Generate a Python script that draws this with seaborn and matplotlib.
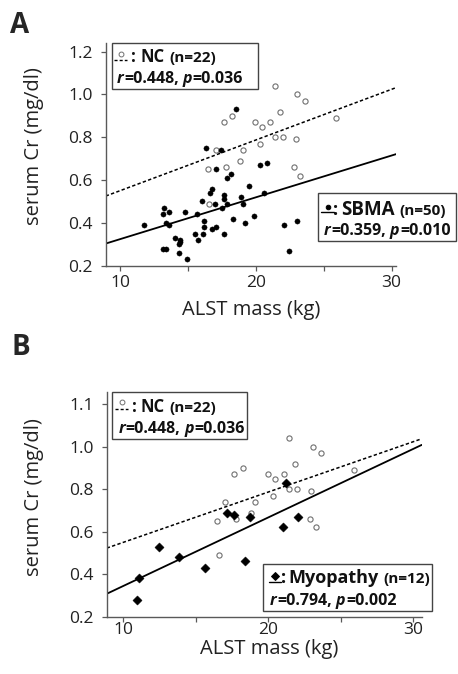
import pandas as pd
import seaborn as sns
import matplotlib.pyplot as plt
from matplotlib.patches import Rectangle
from matplotlib.lines import Line2D

# NC controls (same group shown in both panels)
nc_mass = [21.44, 23.06, 23.60, 21.81, 18.22, 17.65, 19.96, 20.43, 21.05, 25.87, 20.31,
           21.41, 21.98, 22.94, 17.04, 19.08, 17.80, 18.81, 16.47, 22.84, 23.28, 16.59]
nc_cr = [1.04, 1.00, 0.97, 0.92, 0.90, 0.87, 0.87, 0.85, 0.87, 0.89, 0.77,
         0.80, 0.80, 0.79, 0.74, 0.74, 0.66, 0.69, 0.65, 0.66, 0.62, 0.49]

# SBMA patients
sbma_mass = [18.56, 16.35, 17.45, 17.08, 20.80, 20.28, 18.14, 17.87, 16.81, 16.64,
             19.50, 18.88, 20.58, 16.05, 17.63, 17.65, 17.85, 16.96, 19.03, 17.50,
             13.22, 13.59, 13.17, 14.80, 15.66, 11.80, 13.40, 13.64, 16.15, 18.31,
             19.18, 19.86, 22.10, 23.04, 16.15, 16.81, 17.06, 15.51, 16.10, 17.68,
             14.08, 14.43, 14.45, 14.38, 15.76, 13.15, 13.37, 14.33, 14.97, 22.47]
sbma_cr = [0.93, 0.75, 0.74, 0.65, 0.68, 0.67, 0.63, 0.61, 0.56, 0.54,
           0.57, 0.52, 0.54, 0.50, 0.53, 0.51, 0.49, 0.49, 0.49, 0.47,
           0.47, 0.45, 0.44, 0.45, 0.44, 0.39, 0.40, 0.39, 0.41, 0.42,
           0.40, 0.43, 0.39, 0.41, 0.38, 0.37, 0.38, 0.35, 0.35, 0.35,
           0.33, 0.32, 0.31, 0.30, 0.32, 0.28, 0.28, 0.26, 0.23, 0.27]

# Myopathy patients
myo_mass = [21.22, 17.13, 17.61, 18.74, 22.04, 21.01, 12.43, 13.85, 18.37, 15.60, 11.10, 10.92]
myo_cr = [0.83, 0.69, 0.68, 0.67, 0.67, 0.62, 0.53, 0.48, 0.46, 0.43, 0.38, 0.28]

y_ticks = [0.2, 0.4, 0.6, 0.8, 1.0, 1.2]
y_labels_a = ['0.2', '0.4', '0.6', '0.8', '1.0', '1.2']
y_labels_b = ['0.2', '0.4', '0.6', '0.8', '1.0', '1.1']

nc = pd.DataFrame({'mass': nc_mass, 'cr': nc_cr})
sbma = pd.DataFrame({'mass': sbma_mass, 'cr': sbma_cr})
myo = pd.DataFrame({'mass': myo_mass, 'cr': myo_cr})

sns.set_theme(style='ticks')
plt.rcParams['font.family'] = ['Open Sans', 'DejaVu Sans']

W, H = 458, 674
fig = plt.figure(figsize=(W / 100, H / 100), dpi=100)


def fx(x):
    return x / W


def fy(y):
    return 1 - y / H


ax_a = fig.add_axes([fx(105.7), fy(265.7), 290.3 / W, 222.7 / H])
ax_b = fig.add_axes([fx(106.7), fy(616.7), 315.0 / W, 225.0 / H])

gray = '#595959'
txt = '#222222'
dash = (0, (2.2, 1.5))


def draw_panel(ax, xlim, ylim, other, other_marker, other_size, ylabels, xpad):
    ax.set_xlim(xlim)
    ax.set_ylim(ylim)
    sns.scatterplot(data=nc, x='mass', y='cr', ax=ax, marker='o', color='white',
                    edgecolor='#707070', linewidth=0.8, s=14, zorder=3)
    sns.scatterplot(data=other, x='mass', y='cr', ax=ax, marker=other_marker, color='black',
                    edgecolor='black', linewidth=0.3, s=other_size, zorder=3)
    sns.regplot(data=nc, x='mass', y='cr', ax=ax, scatter=False, ci=None, truncate=False,
                line_kws={'color': 'black', 'lw': 1.1, 'ls': dash})
    sns.regplot(data=other, x='mass', y='cr', ax=ax, scatter=False, ci=None, truncate=False,
                line_kws={'color': 'black', 'lw': 1.3})
    ax.set_xlim(xlim)
    ax.set_ylim(ylim)
    ax.set_xticks([10, 20, 30])
    ax.set_xticks([15, 25], minor=True)
    ax.set_yticks(y_ticks)
    ax.set_yticklabels(ylabels)
    sns.despine(ax=ax)
    for s in ['left', 'bottom']:
        ax.spines[s].set_color(gray)
        ax.spines[s].set_linewidth(1.0)
    ax.tick_params(which='both', length=3.5, width=0.9, color=gray,
                   labelsize=12.5, labelcolor=txt)
    ax.tick_params(axis='y', pad=6)
    ax.tick_params(axis='x', pad=xpad)
    ax.set_xlabel('ALST mass (kg)', fontsize=14.5, color=txt)
    ax.set_ylabel('serum Cr (mg/dl)', fontsize=14.5, color=txt)


draw_panel(ax_a, (8.95, 30.32), (0.2, 1.24), sbma, 'o', 14, y_labels_a, 3.5)
draw_panel(ax_b, (8.85, 30.57), (0.2, 1.259), myo, 'D', 22, y_labels_b, 0)

ax_a.xaxis.set_label_coords(0.5, -0.154)
ax_a.yaxis.set_label_coords(-0.2125, 0.535)
ax_b.xaxis.set_label_coords(0.515, -0.097)
ax_b.yaxis.set_label_coords(-0.199, 0.53)

# panel letters
fig.text(fx(10), fy(33), 'A', fontsize=20, fontweight='bold', va='baseline')
fig.text(fx(12), fy(355), 'B', fontsize=20, fontweight='bold', va='baseline')

renderer = fig.canvas.get_renderer()


def legend_box(x0, y0, x1, y1):
    fig.add_artist(Rectangle((fx(x0), fy(y1)), (x1 - x0) / W, (y1 - y0) / H,
                             transform=fig.transFigure, fill=False,
                             ec='#444444', lw=1.0, zorder=5))


def legend_symbol(xc, yc, xl0, xl1, yl, marker, mfc, mec, ms, ls):
    fig.add_artist(Line2D([fx(xl0), fx(xl1)], [fy(yl), fy(yl)], transform=fig.transFigure,
                          color='black', lw=1.0, ls=ls))
    fig.add_artist(Line2D([fx(xc)], [fy(yc)], transform=fig.transFigure, ls='none',
                          marker=marker, mfc=mfc, mec=mec, ms=ms, mew=0.7))


def rich_line(x, y, pieces):
    for text, size, style, gap in pieces:
        t = fig.text(fx(x), fy(y), text, fontsize=size, fontweight='bold',
                     fontstyle=style, va='baseline', ha='left', color='#111111')
        bb = t.get_window_extent(renderer)
        x = bb.x1 + gap


def stats_line(x, y, r, p):
    rich_line(x, y, [('r', 11.5, 'italic', 0.5), ('=' + r + ',', 11.5, 'normal', 4),
                     ('p', 11.5, 'italic', 0.5), ('=' + p, 11.5, 'normal', 0)])


# panel A legends
legend_box(112, 42.7, 258, 89)
legend_symbol(120.7, 53.8, 114.3, 126.7, 60, 'o', 'white', '#707070', 3.5, dash)
rich_line(131.5, 62.3, [(':', 12, 'normal', 4), ('NC', 12, 'normal', 4.5), ('(n=22)', 11, 'normal', 0)])
stats_line(116.7, 83.3, '0.448', '0.036')

legend_box(318, 193, 456, 241)
legend_symbol(327.7, 206.7, 321, 334, 212, 'o', 'black', 'black', 3.3, '-')
rich_line(333.3, 215, [(':', 13, 'normal', 2.5), ('SBMA', 13.5, 'normal', 4.5), ('(n=50)', 11, 'normal', 0)])
stats_line(324, 235, '0.359', '0.010')

# panel B legends
legend_box(112.3, 392.3, 247.3, 439)
legend_symbol(121.7, 402.2, 115, 128, 409, 'o', 'white', '#707070', 3.5, dash)
rich_line(132, 411.7, [(':', 12, 'normal', 4), ('NC', 12, 'normal', 4.5), ('(n=22)', 11, 'normal', 0)])
stats_line(118.3, 433.3, '0.448', '0.036')

legend_box(262.7, 564, 431.7, 611)
legend_symbol(275, 576, 269.3, 280.5, 582, 'D', 'black', 'black', 4, '-')
rich_line(280.5, 583.3, [(':', 13, 'normal', 3), ('Myopathy', 13, 'normal', 4), ('(n=12)', 11, 'normal', 0)])
stats_line(270, 605, '0.794', '0.002')

fig.savefig('out.png', dpi=100, facecolor='white')
